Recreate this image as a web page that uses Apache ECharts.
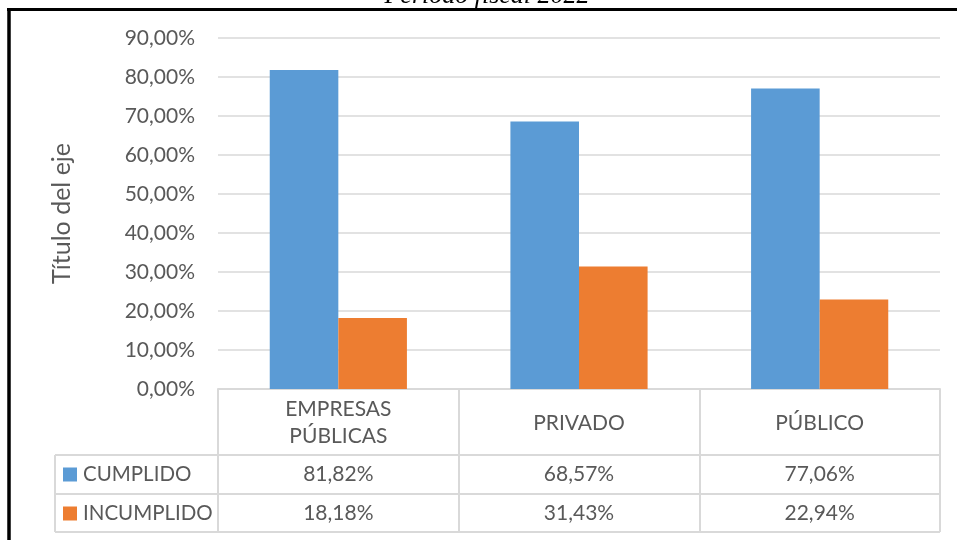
<!DOCTYPE html>
<html><head><meta charset="utf-8">
<script src="https://cdn.jsdelivr.net/npm/echarts@6/dist/echarts.min.js"></script>
<style>html,body{margin:0;padding:0;background:#fff}#c{width:957px;height:540px}</style>
</head><body><div id="c"></div>
<script>
const categories = ['EMPRESAS PÚBLICAS', 'PRIVADO', 'PÚBLICO'];
const seriesNames = ['CUMPLIDO', 'INCUMPLIDO'];
const cumplido = [81.82, 68.57, 77.06];
const incumplido = [18.18, 31.43, 22.94];
const yMin = 0, yMax = 90, yInterval = 10;
const titleText = 'Período fiscal 2022';
const yAxisName = 'Título del eje';

const FONT = 'Lato';
const TXT = '#595959';
const LINE = '#d9d9d9';
const fmt = v => v.toFixed(2).replace('.', ',') + '%';

// layout constants
const G = { left: 218, right: 17, top: 38, bottom: 151 };
const W = 957, H = 540;
const axisY = H - G.bottom;          // 389
const row1 = axisY + 66, row2 = row1 + 39, row3 = row2 + 38;
const tableLeft = 55, tableRight = W - G.right;

const chart = echarts.init(document.getElementById('c'), null, { renderer: 'canvas' });

const valueAxis = (arr, offset) => ({
  type: 'category', gridIndex: 0, position: 'bottom', offset: offset,
  data: categories,
  axisLine: { show: false }, axisTick: { show: false }, splitLine: { show: false },
  axisLabel: {
    margin: 0, lineHeight: 39, fontSize: 21, fontFamily: FONT, color: TXT,
    formatter: (v, i) => fmt(arr[i])
  }
});

const legendRow = (name, top) => ({
  orient: 'vertical', left: 63, top: top + 9, itemGap: 0, padding: 0,
  itemWidth: 14, itemHeight: 14, icon: 'rect',
  data: [name],
  textStyle: { fontSize: 20.5, color: TXT, fontFamily: FONT, lineHeight: 21, padding: [0, 0, 0, 1] },
  selectedMode: false
});

chart.setOption({
  animation: false,
  textStyle: { fontFamily: FONT },
  grid: { left: G.left, right: G.right, top: G.top, bottom: G.bottom, containLabel: false },
  legend: [legendRow(seriesNames[0], row1), legendRow(seriesNames[1], row2)],
  xAxis: [
    {
      type: 'category', data: categories,
      axisLine: { show: true, lineStyle: { color: LINE, width: 2 } },
      axisTick: { show: true, length: row3 - axisY, lineStyle: { color: LINE, width: 2 } },
      axisLabel: {
        margin: 7, fontSize: 21, fontFamily: FONT, color: TXT, lineHeight: 27, interval: 0,
        formatter: v => v.indexOf(' ') >= 0 ? v.replace(' ', '\n') : '{s|' + v + '}',
        rich: { s: { lineHeight: 54, fontSize: 21, fontFamily: FONT, color: TXT } }
      }
    },
    valueAxis(cumplido, 66),
    valueAxis(incumplido, 105)
  ],
  yAxis: {
    type: 'value', min: yMin, max: yMax, interval: yInterval,
    name: yAxisName, nameLocation: 'middle', nameGap: 144,
    nameTextStyle: { fontSize: 25, fontFamily: FONT, color: TXT },
    axisLine: { show: false }, axisTick: { show: false },
    axisLabel: { margin: 23, fontSize: 21, fontFamily: FONT, color: TXT, formatter: v => fmt(v) },
    splitLine: { lineStyle: { color: LINE, width: 1.5 } }
  },
  series: [
    { name: seriesNames[0], type: 'bar', data: cumplido, barGap: '0%', barCategoryGap: '43%',
      itemStyle: { color: '#5B9BD5' } },
    { name: seriesNames[1], type: 'bar', data: incumplido, barGap: '0%', barCategoryGap: '43%',
      itemStyle: { color: '#ED7D31' } }
  ],
  graphic: [
    { type: 'line', shape: { x1: tableLeft, y1: row1, x2: tableRight, y2: row1 }, style: { stroke: LINE, lineWidth: 2 } },
    { type: 'line', shape: { x1: tableLeft, y1: row2, x2: tableRight, y2: row2 }, style: { stroke: LINE, lineWidth: 2 } },
    { type: 'line', shape: { x1: tableLeft, y1: row3, x2: tableRight, y2: row3 }, style: { stroke: LINE, lineWidth: 2 } },
    { type: 'line', shape: { x1: tableLeft, y1: row1, x2: tableLeft, y2: row3 }, style: { stroke: LINE, lineWidth: 2 } },
    { type: 'line', shape: { x1: 7, y1: 9.5, x2: W, y2: 9.5 }, style: { stroke: '#000', lineWidth: 3 } },
    { type: 'line', shape: { x1: 9, y1: 8, x2: 9, y2: H }, style: { stroke: '#000', lineWidth: 3.5 } },
    { type: 'text', x: 487, y: -4, style: { text: titleText, fill: '#000', font: 'italic 26px "Liberation Serif"', align: 'center', verticalAlign: 'middle' } }
  ]
});
</script></body></html>
